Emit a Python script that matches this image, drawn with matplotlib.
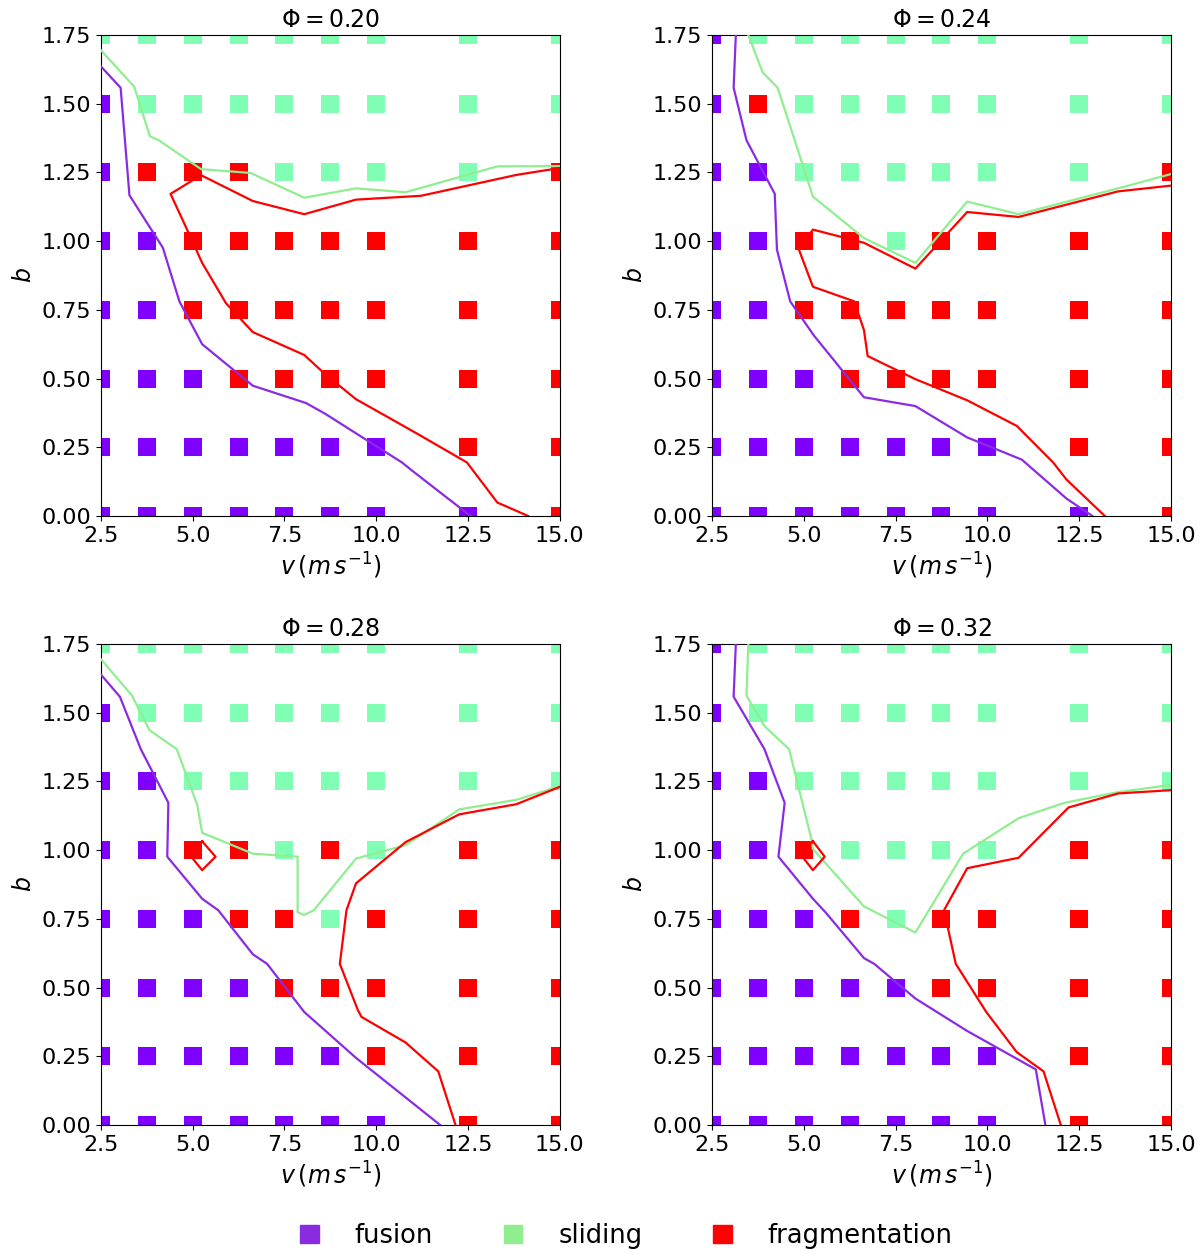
import matplotlib
matplotlib.use("Agg")
import matplotlib.pyplot as plt
from matplotlib.patches import Patch

# grid of simulated collisions
v_values = [2.5, 3.75, 5.0, 6.25, 7.5, 8.75, 10.0, 12.5, 15.0]
b_values = [1.75, 1.5, 1.25, 1.0, 0.75, 0.5, 0.25, 0.0]
phi_values = [0.20, 0.24, 0.28, 0.32]

# F = fusion, S = sliding, R = fragmentation ; rows go from b=1.75 down to b=0
regimes_020 = ["SSSSSSSSS", "FSSSSSSSS", "FRRRSSSSR", "FFRRRRRRR",
               "FFRRRRRRR", "FFFRRRRRR", "FFFFFFFRR", "FFFFFFFFR"]
regimes_024 = ["FSSSSSSSS", "FRSSSSSSS", "FFSSSSSSR", "FFRRSRRRR",
               "FFRRRRRRR", "FFFRRRRRR", "FFFFFFFRR", "FFFFFFFFR"]
regimes_028 = ["SSSSSSSSS", "FSSSSSSSS", "FFSSSSSSS", "FFRRSRSRR",
               "FFFRRSRRR", "FFFFRRRRR", "FFFFFFRRR", "FFFFFFFRR"]
regimes_032 = ["FSSSSSSSS", "FSSSSSSSS", "FFSSSSSSS", "FFRSSSSRR",
               "FFFRSRRRR", "FFFFFRRRR", "FFFFFFFRR", "FFFFFFFRR"]

# boundary lines (v, b)
fusion_line_020 = [(2.5, 1.636), (3.04, 1.558), (3.28, 1.167), (4.19, 0.976), (4.64, 0.781),
                   (5.26, 0.625), (6.64, 0.474), (8.09, 0.411), (8.61, 0.372), (10.70, 0.195),
                   (10.96, 0.167), (12.57, 0.0)]
sliding_line_020 = [(2.5, 1.695), (3.41, 1.562), (3.84, 1.381), (4.08, 1.367), (5.23, 1.262),
                    (6.58, 1.248), (8.04, 1.158), (9.45, 1.192), (10.80, 1.178), (13.30, 1.272),
                    (15.0, 1.273)]
frag_line_020 = [(15.0, 1.266), (13.82, 1.241), (11.22, 1.165), (9.45, 1.151), (8.04, 1.098),
                 (6.64, 1.146), (5.23, 1.240), (4.40, 1.172), (4.86, 1.039), (5.26, 0.921),
                 (5.91, 0.774), (6.64, 0.669), (8.04, 0.586), (8.61, 0.516), (9.45, 0.425),
                 (11.11, 0.300), (12.47, 0.195), (13.30, 0.049), (14.14, 0.0)]

fusion_line_024 = [(3.15, 1.75), (3.09, 1.558), (3.44, 1.367), (4.21, 1.172), (4.27, 0.969),
                   (4.63, 0.781), (5.28, 0.656), (6.64, 0.432), (8.04, 0.400), (9.45, 0.286),
                   (10.94, 0.205), (12.16, 0.063), (12.86, 0.0)]
sliding_line_024 = [(3.49, 1.75), (3.88, 1.614), (4.29, 1.558), (5.25, 1.162), (6.64, 1.011),
                    (8.04, 0.921), (9.45, 1.144), (10.85, 1.098), (13.56, 1.192), (15.0, 1.244)]
frag_line_024 = [(15.0, 1.202), (13.56, 1.181), (10.85, 1.088), (9.45, 1.106), (8.04, 0.900),
                 (6.64, 0.994), (5.25, 1.042), (4.86, 0.972), (5.25, 0.834), (6.375, 0.781),
                 (6.64, 0.676), (6.74, 0.582), (8.04, 0.498), (9.45, 0.421), (10.80, 0.328),
                 (11.79, 0.195), (12.16, 0.132), (13.2, 0.0)]

fusion_line_028 = [(2.5, 1.639), (3.02, 1.558), (3.59, 1.367), (4.34, 1.172), (4.31, 0.976),
                   (5.26, 0.823), (5.70, 0.781), (6.64, 0.621), (7.03, 0.586), (8.04, 0.411),
                   (9.45, 0.244), (11.74, 0.0)]
sliding_line_028 = [(2.5, 1.695), (3.35, 1.562), (3.82, 1.437), (4.57, 1.367), (5.125, 1.165),
                    (5.26, 1.063), (6.64, 0.987), (7.86, 0.976), (7.86, 0.774), (8.04, 0.764),
                    (8.30, 0.781), (9.45, 0.969), (10.80, 1.018), (12.26, 1.148), (13.82, 1.183),
                    (15.0, 1.232)]
frag_line_028 = [(15.0, 1.230), (13.82, 1.167), (12.26, 1.130), (10.80, 1.029), (9.45, 0.879),
                 (9.19, 0.781), (9.01, 0.586), (9.50, 0.418), (9.60, 0.393), (10.80, 0.300),
                 (11.69, 0.195), (12.16, 0.0)]
frag_loop_028 = [(5.26, 1.032), (5.625, 0.976), (5.26, 0.927), (4.92, 0.983), (5.26, 1.032)]

fusion_line_032 = [(3.15, 1.75), (3.09, 1.558), (3.93, 1.367), (4.48, 1.172), (4.31, 0.976),
                   (5.25, 0.823), (5.59, 0.774), (6.64, 0.607), (6.92, 0.586), (8.04, 0.460),
                   (9.45, 0.342), (11.32, 0.202), (11.58, 0.0)]
sliding_line_032 = [(3.49, 1.75), (3.44, 1.562), (3.93, 1.451), (4.60, 1.367), (5.21, 1.039),
                    (5.25, 1.004), (6.64, 0.795), (8.04, 0.700), (9.34, 0.987), (10.85, 1.116),
                    (12.10, 1.172), (13.56, 1.211), (15.0, 1.237)]
frag_line_032 = [(15.0, 1.218), (13.56, 1.206), (12.21, 1.155), (10.85, 0.972), (9.45, 0.934),
                 (8.82, 0.781), (9.14, 0.586), (9.97, 0.411), (10.80, 0.265), (11.53, 0.195),
                 (12.0, 0.0)]
frag_loop_032 = [(5.25, 1.032), (5.57, 0.976), (5.25, 0.927), (4.92, 0.983), (5.25, 1.032)]

regimes = [regimes_020, regimes_024, regimes_028, regimes_032]
lines = [
    [(fusion_line_020, "blueviolet"), (sliding_line_020, "lightgreen"), (frag_line_020, "red")],
    [(fusion_line_024, "blueviolet"), (sliding_line_024, "lightgreen"), (frag_line_024, "red")],
    [(fusion_line_028, "blueviolet"), (sliding_line_028, "lightgreen"), (frag_line_028, "red"),
     (frag_loop_028, "red")],
    [(fusion_line_032, "blueviolet"), (sliding_line_032, "lightgreen"), (frag_line_032, "red"),
     (frag_loop_032, "red")],
]

square_colors = {"F": "#8000ff", "S": "#80ffb4", "R": "#ff0000"}

plt.rcParams["font.size"] = 16

fig = plt.figure(figsize=(12, 12.54), dpi=100)
positions = [[0.084, 0.5885, 0.3825, 0.3836], [0.5933, 0.5885, 0.3825, 0.3836],
             [0.084, 0.1029, 0.3825, 0.3836], [0.5933, 0.1029, 0.3825, 0.3836]]

for k in range(4):
    ax = fig.add_axes(positions[k])
    # squares for each regime
    for code, color in square_colors.items():
        xs, ys = [], []
        for i, row in enumerate(regimes[k]):
            for j, c in enumerate(row):
                if c == code:
                    xs.append(v_values[j])
                    ys.append(b_values[i])
        ax.scatter(xs, ys, marker="s", s=150, c=color, linewidths=0, zorder=2)
    # boundaries
    for pts, color in lines[k]:
        ax.plot([p[0] for p in pts], [p[1] for p in pts], color=color, lw=1.6, zorder=3)

    ax.set_xlim(2.5, 15.0)
    ax.set_ylim(0.0, 1.75)
    ax.set_xticks([2.5, 5.0, 7.5, 10.0, 12.5, 15.0])
    ax.set_yticks(b_values[::-1])
    ax.set_yticklabels([f"{b:.2f}" for b in b_values[::-1]])
    ax.set_title(rf"$\Phi = {phi_values[k]:.2f}$", fontsize=17)
    ax.set_xlabel(r"$v\,(m\,s^{-1})$", fontsize=17)
    ax.set_ylabel(r"$b$", fontsize=17)

handles = [Patch(color="blueviolet", label="fusion"),
           Patch(color="lightgreen", label="sliding"),
           Patch(color="red", label="fragmentation")]
fig.legend(handles=handles, loc="center", bbox_to_anchor=(0.522, 0.0145), ncol=3,
           frameon=False, fontsize=18.5, handlelength=0.72, handleheight=0.72,
           handletextpad=1.4, columnspacing=2.75)

fig.savefig("out.png", dpi=100)
